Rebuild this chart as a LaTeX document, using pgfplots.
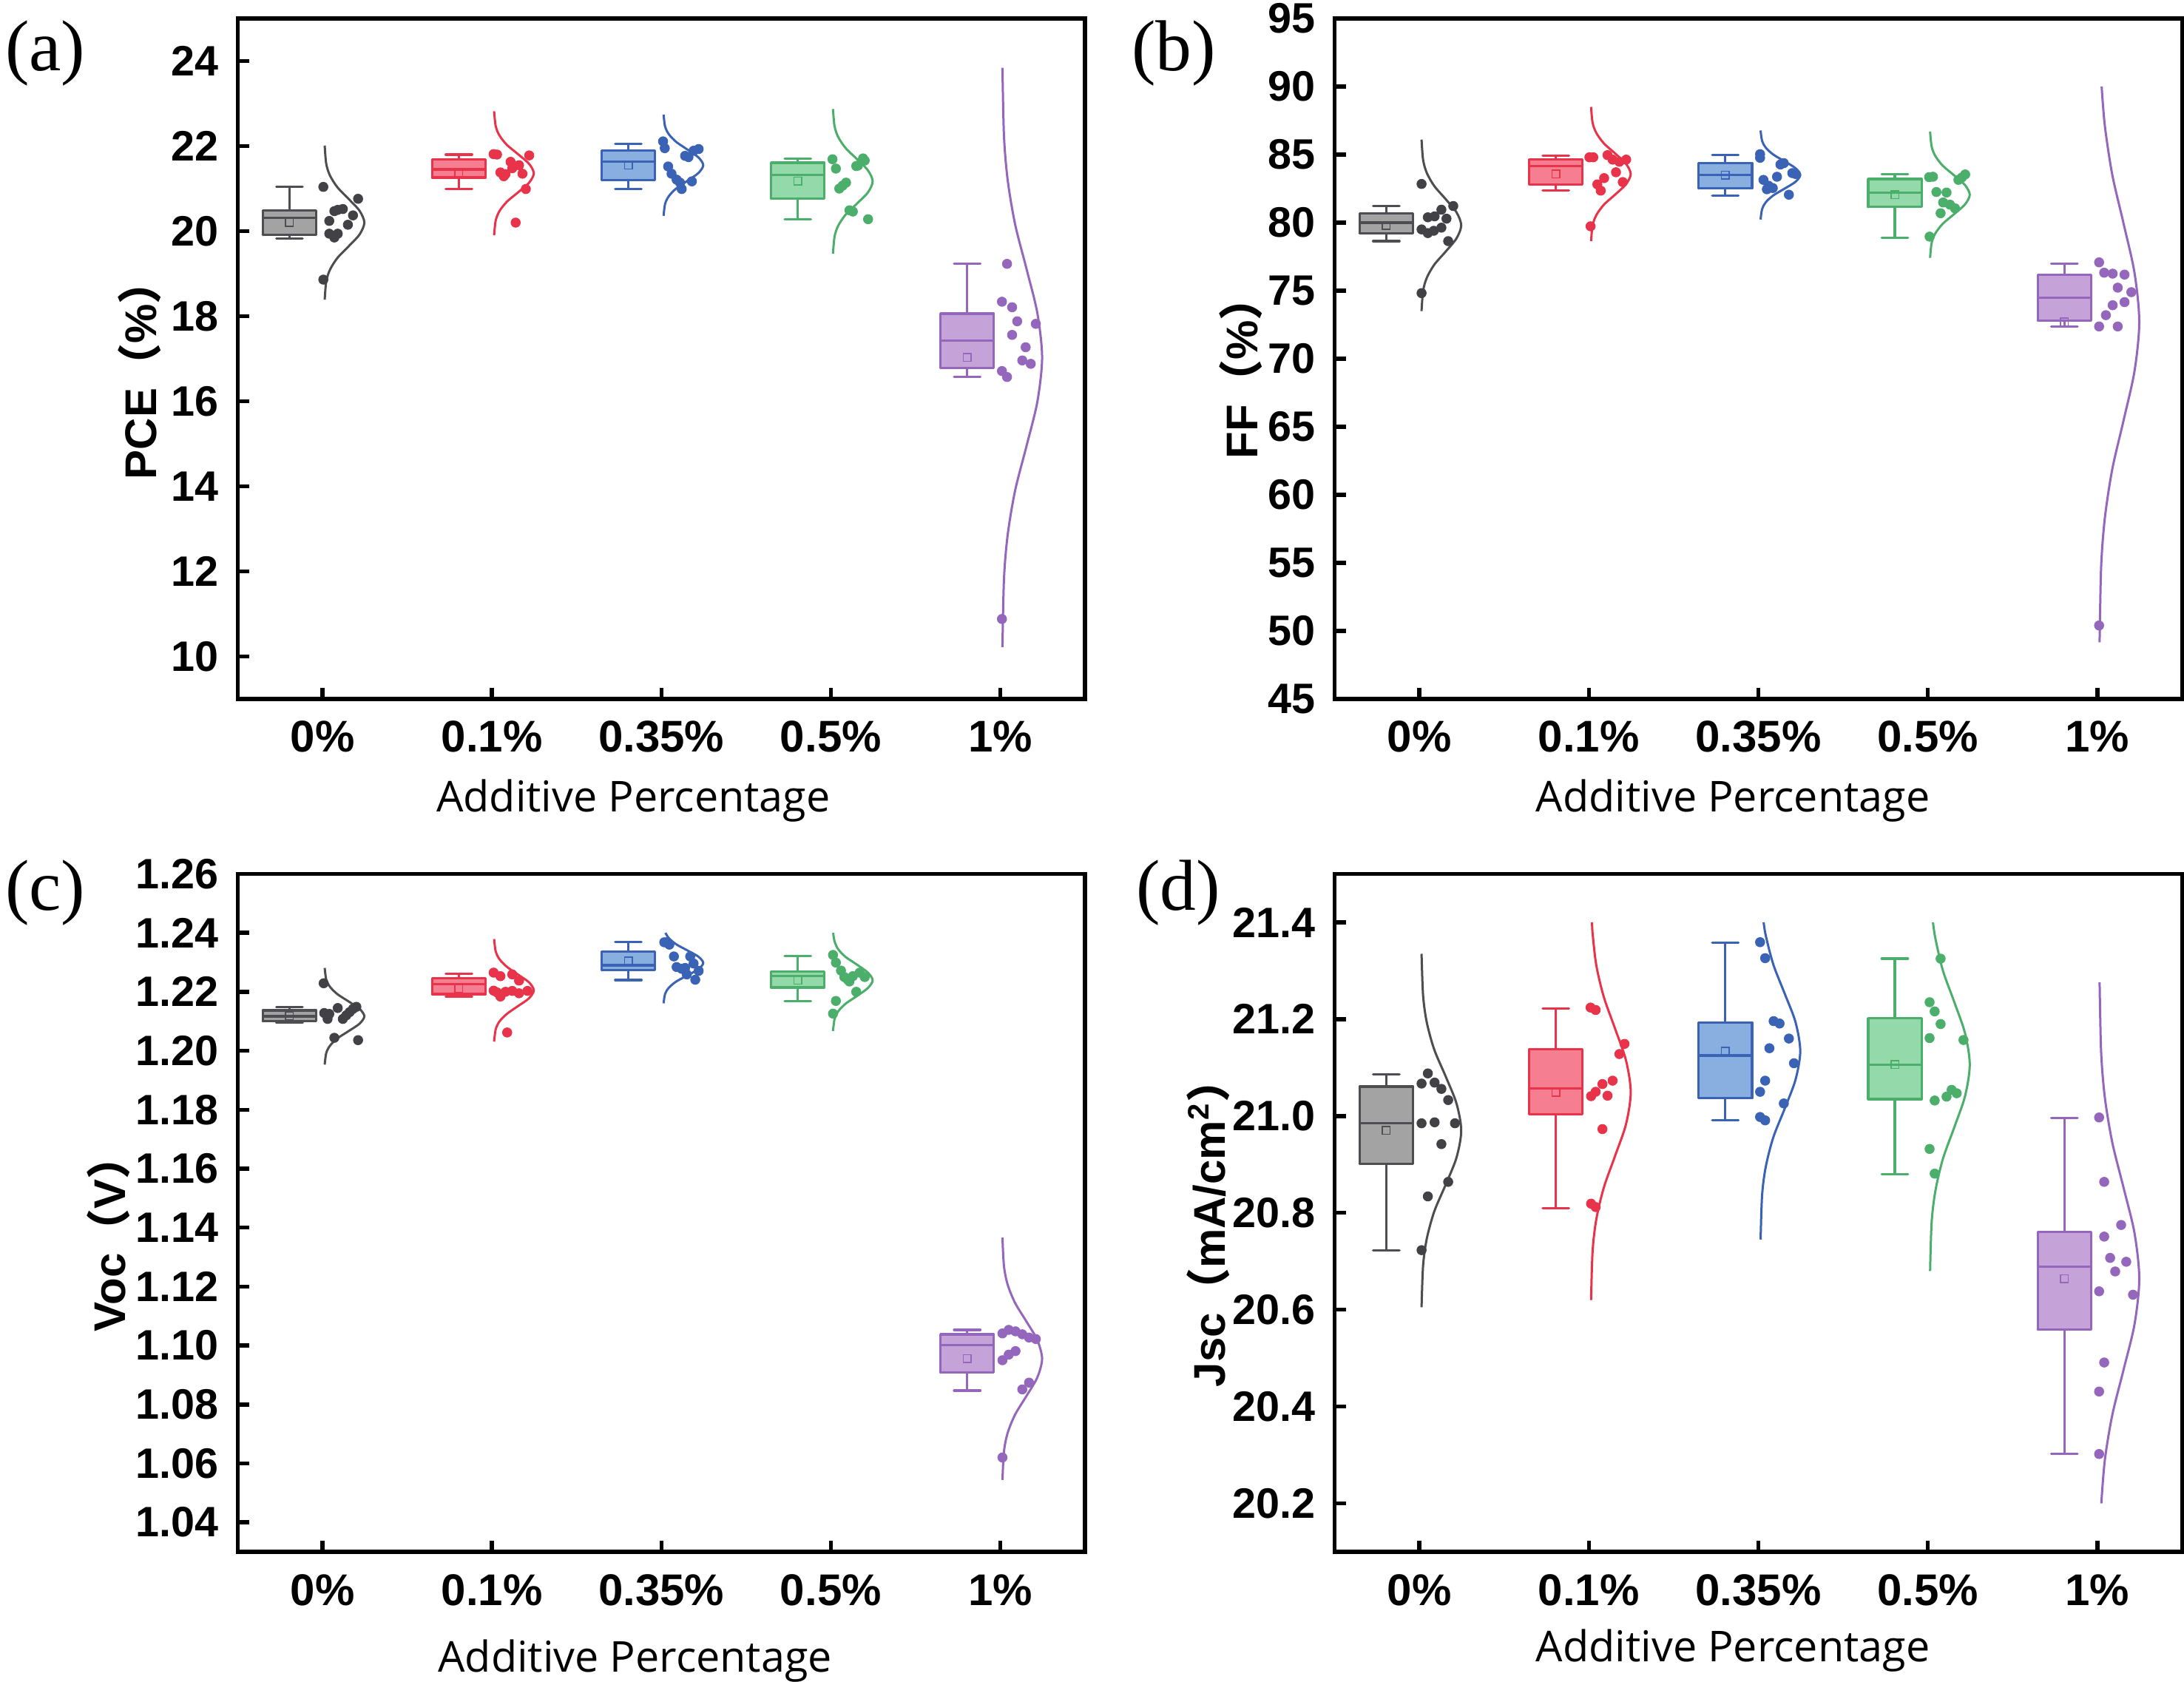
\documentclass[border=0pt]{standalone}
\usepackage{pgfplots}
\pgfplotsset{compat=1.18}
\usepackage{fontspec}
\setmainfont{Liberation Sans}
\newfontfamily\cjk{Noto Sans CJK SC}
\newfontfamily\osans{Open Sans}
\newfontfamily\tnr{Liberation Serif}

\definecolor{gE}{HTML}{4D4D52}\definecolor{gF}{HTML}{A3A3A3}\definecolor{gP}{HTML}{424246}
\definecolor{rE}{HTML}{E8334A}\definecolor{rF}{HTML}{F57F90}
\definecolor{bE}{HTML}{3A62B5}\definecolor{bF}{HTML}{89AFE0}
\definecolor{nE}{HTML}{4BAE6A}\definecolor{nF}{HTML}{93D9A9}
\definecolor{pE}{HTML}{9467BD}\definecolor{pF}{HTML}{C5A3D8}

% box: pos, lower whisker, lower quartile, median, upper quartile, upper whisker, edge, fill, mean
\newcommand{\bx}[9]{%
\pgfmathsetmacro\bxl{#1-0.1575}\pgfmathsetmacro\bxr{#1+0.1575}%
\pgfmathsetmacro\bcl{#1-0.0775}\pgfmathsetmacro\bcr{#1+0.0775}%
\addplot[draw=#7, fill=#8, line width=0.65pt, line join=round, line cap=round] coordinates {(\bxl,#3)(\bxr,#3)(\bxr,#5)(\bxl,#5)(\bxl,#3)};
\addplot[draw=#7, line width=0.65pt] coordinates {(\bxl,#4)(\bxr,#4)};
\addplot[draw=#7, line width=0.65pt] coordinates {(#1,#5)(#1,#6)};
\addplot[draw=#7, line width=0.65pt, line cap=round] coordinates {(\bcl,#6)(\bcr,#6)};
\addplot[draw=#7, line width=0.65pt] coordinates {(#1,#3)(#1,#2)};
\addplot[draw=#7, line width=0.65pt, line cap=round] coordinates {(\bcl,#2)(\bcr,#2)};
\addplot[only marks, mark=square, mark size=1.05pt, mark options={draw=#7, line width=0.3pt, fill=none}] coordinates {(#1,#9)};
}
\newcommand{\crv}[2]{\addplot[draw=#1, line width=0.6pt, smooth, mark=none] coordinates {#2};}
\newcommand{\pts}[2]{\addplot[only marks, mark=*, mark size=1.25pt, color=#1, mark options={draw=#1, fill=#1, line width=0.2pt}] coordinates {#2};}

\pgfplotsset{panel/.style={
  scale only axis, width=229.1pt,
  xmin=-0.5, xmax=4.5, xtick={0,1,2,3,4},
  xticklabels={0\%,0.1\%,0.35\%,0.5\%,1\%},
  tick align=inside, xtick pos=bottom, ytick pos=left,
  major tick length=3pt, minor tick num=0,
  axis line style={line width=1.1pt, black},
  major tick style={black, line width=1.1pt},
  /pgf/number format/assume math mode=true,
  xticklabel style={font=\bfseries\fontsize{12}{12}\selectfont, anchor=base, yshift=-14.4pt},
  yticklabel style={font=\bfseries\fontsize{11.5}{12}\selectfont, xshift=-1.6pt},
  xlabel={Additive Percentage},
  xlabel style={font=\osans\fontsize{11.5}{12}\selectfont, anchor=base},
  ylabel style={font=\bfseries\fontsize{12}{12}\selectfont, anchor=base},
}}

\begin{document}
\begin{tikzpicture}
\path[use as bounding box] (0,0) rectangle (590.6pt,454.6pt);
\fill[white] (0,0) rectangle (590.6pt,454.6pt);

% ---------------- (a) PCE
\begin{axis}[panel, at={(64.3pt,265.6pt)}, anchor=south west, height=184pt,
  ymin=9, ymax=25, ytick={10,12,14,16,18,20,22,24},
  xlabel style={at={(axis description cs:0.467,-0.1658)}},
  ylabel={PCE{\cjk （}\%{\cjk ）}},
  ylabel style={at={(axis description cs:-0.096,0.484)}}]
\bx{-0.195}{19.83}{19.91}{20.31}{20.49}{21.04}{gE}{gF}{20.2}
\bx{0.805}{20.99}{21.26}{21.45}{21.69}{21.80}{rE}{rF}{21.36}
\bx{1.805}{20.99}{21.20}{21.64}{21.89}{22.05}{bE}{bF}{21.55}
\bx{2.805}{20.28}{20.76}{21.32}{21.61}{21.71}{nE}{nF}{21.18}
\bx{3.805}{16.57}{16.78}{17.43}{18.06}{19.23}{pE}{pF}{17.03}
\crv{gE}{(0.013,18.388)(0.022,18.815)(0.044,19.092)(0.088,19.369)(0.155,19.646)(0.219,19.923)(0.247,20.2)(0.219,20.477)(0.155,20.754)(0.088,21.031)(0.044,21.308)(0.022,21.585)(0.013,22.012)}
\crv{rE}{(1.013,19.902)(1.022,20.245)(1.044,20.468)(1.088,20.691)(1.155,20.914)(1.219,21.137)(1.247,21.36)(1.219,21.583)(1.155,21.806)(1.088,22.029)(1.044,22.252)(1.022,22.475)(1.013,22.818)}
\crv{bE}{(2.013,20.36)(2.022,20.64)(2.044,20.822)(2.088,21.004)(2.155,21.186)(2.219,21.368)(2.247,21.55)(2.219,21.732)(2.155,21.914)(2.088,22.096)(2.044,22.278)(2.022,22.46)(2.013,22.74)}
\crv{nE}{(3.013,19.47)(3.022,19.87)(3.044,20.13)(3.088,20.39)(3.155,20.65)(3.219,20.91)(3.247,21.17)(3.219,21.43)(3.155,21.69)(3.088,21.95)(3.044,22.21)(3.022,22.47)(3.013,22.87)}
\crv{pE}{(4.013,10.219)(4.022,11.823)(4.044,12.864)(4.088,13.906)(4.155,14.947)(4.219,15.989)(4.247,17.03)(4.219,18.072)(4.155,19.113)(4.088,20.155)(4.044,21.196)(4.022,22.238)(4.013,23.841)}
\pts{gP}{(0.005,21.04)(0.21,20.76)(0.12,20.52)(0.09,20.50)(0.07,20.47)(0.18,20.37)(0.04,20.24)(0.15,20.15)(0.04,19.94)(0.09,19.94)(0.07,19.85)(0.005,18.86)}
\pts{rE}{(1.01,21.81)(1.03,21.80)(1.22,21.78)(1.11,21.63)(1.16,21.55)(1.12,21.48)(1.05,21.38)(1.18,21.35)(1.07,21.29)(1.08,21.34)(1.20,20.99)(1.14,20.20)}
\pts{bE}{(2.01,22.11)(2.02,21.95)(2.22,21.93)(2.19,21.89)(2.14,21.77)(2.16,21.74)(2.04,21.52)(2.06,21.35)(2.09,21.21)(2.18,21.17)(2.11,21.14)(2.12,20.99)}
\pts{nE}{(3.01,21.69)(3.19,21.71)(3.20,21.66)(3.16,21.54)(3.15,21.53)(3.03,21.47)(3.09,21.14)(3.07,21.07)(3.05,21.00)(3.11,20.49)(3.13,20.46)(3.22,20.28)}
\pts{pE}{(4.04,19.23)(4.01,18.34)(4.07,18.21)(4.10,17.88)(4.21,17.82)(4.07,17.56)(4.15,17.27)(4.13,16.96)(4.18,16.88)(4.01,16.71)(4.04,16.57)(4.01,10.88)}
\end{axis}

% ---------------- (b) FF
\begin{axis}[panel, at={(360.9pt,265.6pt)}, anchor=south west, height=184pt, width=229.2pt,
  ymin=45, ymax=95, ytick={45,50,55,60,65,70,75,80,85,90,95},
  xlabel style={at={(axis description cs:0.47,-0.1658)}},
  ylabel={FF{\cjk （}\%{\cjk ）}},
  ylabel style={at={(axis description cs:-0.091,0.487)}}]
\bx{-0.195}{78.64}{79.23}{80.0}{80.66}{81.22}{gE}{gF}{79.8}
\bx{0.805}{82.35}{82.81}{84.14}{84.63}{84.93}{rE}{rF}{83.57}
\bx{1.805}{81.98}{82.51}{83.51}{84.37}{84.96}{bE}{bF}{83.5}
\bx{2.805}{78.9}{81.15}{82.18}{83.21}{83.54}{nE}{nF}{82.05}
\bx{3.805}{72.37}{72.8}{74.49}{76.15}{76.98}{pE}{pF}{72.7}
\crv{gE}{(0.013,73.50)(0.022,74.98)(0.044,75.95)(0.088,76.91)(0.155,77.87)(0.219,78.84)(0.247,79.8)(0.219,80.76)(0.155,81.73)(0.088,82.69)(0.044,83.65)(0.022,84.62)(0.013,86.10)}
\crv{rE}{(1.013,78.64)(1.022,79.80)(1.044,80.55)(1.088,81.31)(1.155,82.06)(1.219,82.82)(1.247,83.57)(1.219,84.32)(1.155,85.08)(1.088,85.83)(1.044,86.59)(1.022,87.34)(1.013,88.50)}
\crv{bE}{(2.013,80.23)(2.022,81.0)(2.044,81.5)(2.088,82.0)(2.155,82.5)(2.219,83.0)(2.247,83.5)(2.219,84.0)(2.155,84.5)(2.088,85.0)(2.044,85.5)(2.022,86.0)(2.013,86.77)}
\crv{nE}{(3.013,77.41)(3.022,78.50)(3.044,79.21)(3.088,79.92)(3.155,80.63)(3.219,81.34)(3.247,82.05)(3.219,82.76)(3.155,83.47)(3.088,84.18)(3.044,84.89)(3.022,85.60)(3.013,86.69)}
\crv{pE}{(4.013,49.16)(4.022,54.70)(4.044,58.30)(4.088,61.90)(4.155,65.50)(4.219,69.10)(4.247,72.70)(4.219,76.30)(4.155,79.90)(4.088,83.50)(4.044,87.10)(4.025,90.0)}
\pts{gP}{(0.013,82.84)(0.20,81.22)(0.13,80.95)(0.09,80.46)(0.05,80.39)(0.16,80.29)(0.013,79.50)(0.05,79.23)(0.085,79.40)(0.13,79.63)(0.17,78.64)(0.013,74.82)}
\pts{rE}{(1.003,84.80)(1.026,84.80)(1.11,84.96)(1.14,84.63)(1.22,84.63)(1.18,84.47)(1.16,83.70)(1.09,83.27)(1.20,82.98)(1.05,82.81)(1.07,82.35)(1.01,79.73)}
\pts{bE}{(2.01,85.03)(2.01,84.76)(2.15,84.37)(2.13,84.27)(2.22,83.57)(2.20,83.64)(2.11,83.37)(2.03,83.14)(2.06,82.71)(2.085,82.54)(2.05,82.45)(2.18,82.05)}
\pts{nE}{(3.007,83.34)(3.03,83.37)(3.22,83.54)(3.18,83.14)(3.20,83.31)(3.05,82.25)(3.11,82.21)(3.09,81.48)(3.13,81.32)(3.16,81.05)(3.075,80.69)(3.01,78.97)}
\pts{pE}{(4.01,77.08)(4.04,76.32)(4.09,76.25)(4.16,76.18)(4.12,75.22)(4.20,74.89)(4.16,74.16)(4.09,73.93)(4.05,73.20)(4.01,72.37)(4.12,72.37)(4.01,50.40)}
\end{axis}

% ---------------- (c) Voc
\begin{axis}[panel, at={(64.3pt,35pt)}, anchor=south west, height=183.3pt,
  ymin=1.03, ymax=1.26, ytick={1.04,1.06,1.08,1.10,1.12,1.14,1.16,1.18,1.20,1.22,1.24,1.26},
  yticklabel style={/pgf/number format/.cd, fixed, fixed zerofill, precision=2},
  xlabel style={at={(axis description cs:0.469,-0.1768)}},
  ylabel={Voc{\cjk （}V{\cjk ）}},
  ylabel style={at={(axis description cs:-0.133,0.47)}}]
\bx{-0.195}{1.2097}{1.2100}{1.2117}{1.2137}{1.2148}{gE}{gF}{1.2117}
\bx{0.805}{1.2183}{1.2192}{1.2226}{1.2246}{1.2261}{rE}{rF}{1.2210}
\bx{1.805}{1.2240}{1.2273}{1.2290}{1.2336}{1.2369}{bE}{bF}{1.2305}
\bx{2.805}{1.2169}{1.2215}{1.2253}{1.2269}{1.2322}{nE}{nF}{1.2239}
\bx{3.805}{1.0847}{1.0908}{1.1002}{1.1038}{1.1053}{pE}{pF}{1.0955}
\crv{gE}{(0.013,1.1953)(0.022,1.1992)(0.044,1.2017)(0.088,1.2042)(0.155,1.2067)(0.219,1.2092)(0.247,1.2117)(0.219,1.2142)(0.155,1.2167)(0.088,1.2192)(0.044,1.2217)(0.022,1.2242)(0.013,1.2281)}
\crv{rE}{(1.013,1.2031)(1.022,1.2072)(1.044,1.2099)(1.088,1.2125)(1.155,1.2152)(1.219,1.2178)(1.247,1.2205)(1.219,1.2232)(1.155,1.2258)(1.088,1.2285)(1.044,1.2311)(1.022,1.2338)(1.013,1.2379)}
\crv{bE}{(2.013,1.2161)(2.022,1.2193)(2.044,1.2214)(2.088,1.2235)(2.155,1.2256)(2.219,1.2277)(2.247,1.2298)(2.219,1.2319)(2.155,1.2340)(2.088,1.2361)(2.044,1.2382)(2.024,1.2400)}
\crv{nE}{(3.013,1.2067)(3.022,1.2107)(3.044,1.2134)(3.088,1.2160)(3.155,1.2186)(3.219,1.2213)(3.247,1.2239)(3.219,1.2265)(3.155,1.2292)(3.088,1.2318)(3.044,1.2344)(3.022,1.2371)(3.014,1.2400)}
\crv{pE}{(4.013,1.0544)(4.022,1.0641)(4.044,1.0704)(4.088,1.0766)(4.155,1.0829)(4.219,1.0892)(4.247,1.0955)(4.219,1.1018)(4.155,1.1081)(4.088,1.1144)(4.044,1.1206)(4.022,1.1269)(4.013,1.1366)}
\pts{gP}{(0.007,1.2229)(0.20,1.2149)(0.18,1.2142)(0.09,1.2145)(0.16,1.2131)(0.01,1.2128)(0.14,1.2120)(0.03,1.2108)(0.12,1.2108)(0.07,1.2044)(0.21,1.2036)(0.04,1.2125)}
\pts{rE}{(1.01,1.2265)(1.05,1.2253)(1.12,1.2259)(1.16,1.2238)(1.01,1.2204)(1.03,1.2198)(1.05,1.2184)(1.08,1.2200)(1.12,1.2203)(1.16,1.2195)(1.21,1.2203)(1.09,1.2062)}
\pts{bE}{(2.017,1.2368)(2.047,1.2360)(2.074,1.2320)(2.17,1.2320)(2.19,1.2296)(2.09,1.2284)(2.14,1.2281)(2.12,1.2278)(2.22,1.2271)(2.15,1.2259)(2.20,1.2241)(2.03,1.2368)}
\pts{nE}{(3.013,1.2325)(3.03,1.2299)(3.06,1.2272)(3.08,1.2250)(3.11,1.2235)(3.13,1.2253)(3.17,1.2265)(3.20,1.2250)(3.15,1.2200)(3.03,1.2169)(3.013,1.2126)(3.10,1.2241)}
\pts{pE}{(4.013,1.1041)(4.05,1.1053)(4.09,1.1048)(4.13,1.1038)(4.17,1.1027)(4.21,1.1022)(4.09,1.0981)(4.05,1.0969)(4.013,1.0950)(4.17,1.0874)(4.13,1.0851)(4.013,1.0620)}
\end{axis}

% ---------------- (d) Jsc
\begin{axis}[panel, at={(360.9pt,35pt)}, anchor=south west, height=183.3pt, width=229.2pt,
  ymin=20.1, ymax=21.5, ytick={20.2,20.4,20.6,20.8,21.0,21.2,21.4},
  yticklabel style={/pgf/number format/.cd, fixed, fixed zerofill, precision=1},
  xlabel style={at={(axis description cs:0.47,-0.162)}},
  ylabel={Jsc{\cjk （}mA/cm\textsuperscript{2}{\cjk ）}},
  ylabel style={at={(axis description cs:-0.129,0.486)}}]
\bx{-0.195}{20.723}{20.901}{20.985}{21.061}{21.086}{gE}{gF}{20.970}
\bx{0.805}{20.810}{21.004}{21.057}{21.138}{21.222}{rE}{rF}{21.049}
\bx{1.805}{20.991}{21.037}{21.125}{21.193}{21.358}{bE}{bF}{21.134}
\bx{2.805}{20.880}{21.035}{21.106}{21.202}{21.325}{nE}{nF}{21.106}
\bx{3.805}{20.302}{20.559}{20.689}{20.761}{20.996}{pE}{pF}{20.664}
\crv{gE}{(0.013,20.605)(0.022,20.691)(0.044,20.747)(0.088,20.803)(0.155,20.858)(0.219,20.914)(0.247,20.970)(0.219,21.026)(0.155,21.082)(0.088,21.137)(0.044,21.193)(0.022,21.249)(0.013,21.335)}
\crv{rE}{(1.013,20.620)(1.022,20.721)(1.044,20.787)(1.088,20.852)(1.155,20.918)(1.219,20.983)(1.247,21.049)(1.219,21.115)(1.155,21.180)(1.088,21.246)(1.044,21.311)(1.022,21.377)(1.019,21.40)}
\crv{bE}{(2.013,20.745)(2.022,20.837)(2.044,20.896)(2.088,20.956)(2.155,21.015)(2.219,21.075)(2.247,21.134)(2.219,21.194)(2.155,21.253)(2.088,21.313)(2.044,21.372)(2.031,21.40)}
\crv{nE}{(3.013,20.680)(3.022,20.780)(3.044,20.845)(3.088,20.911)(3.155,20.976)(3.219,21.041)(3.247,21.106)(3.219,21.171)(3.155,21.236)(3.088,21.301)(3.044,21.367)(3.030,21.40)}
\crv{pE}{(4.023,20.20)(4.044,20.290)(4.088,20.383)(4.155,20.477)(4.219,20.570)(4.247,20.664)(4.219,20.758)(4.155,20.851)(4.088,20.945)(4.044,21.038)(4.022,21.132)(4.013,21.276)}
\pts{gP}{(0.05,21.088)(0.013,21.067)(0.09,21.069)(0.13,21.056)(0.17,21.033)(0.013,20.985)(0.09,20.987)(0.21,20.985)(0.13,20.942)(0.17,20.864)(0.05,20.834)(0.013,20.723)}
\pts{rE}{(1.01,21.224)(1.04,21.219)(1.21,21.149)(1.18,21.128)(1.14,21.073)(1.08,21.066)(1.04,21.050)(1.013,21.041)(1.11,21.042)(1.08,20.973)(1.013,20.819)(1.04,20.812)}
\pts{bE}{(2.01,21.359)(2.04,21.326)(2.09,21.196)(2.125,21.191)(2.18,21.160)(2.065,21.140)(2.21,21.109)(2.04,21.073)(2.01,21.050)(2.15,21.026)(2.01,20.998)(2.04,20.991)}
\pts{nE}{(3.075,21.325)(3.01,21.235)(3.04,21.216)(3.075,21.190)(3.01,21.161)(3.21,21.157)(3.14,21.054)(3.17,21.047)(3.11,21.040)(3.04,21.032)(3.01,20.932)(3.04,20.881)}
\pts{pE}{(4.01,20.997)(4.04,20.864)(4.14,20.775)(4.04,20.751)(4.075,20.707)(4.17,20.699)(4.105,20.679)(4.01,20.638)(4.21,20.631)(4.04,20.491)(4.01,20.431)(4.01,20.302)}
\end{axis}

\node[anchor=base west, font=\tnr\fontsize{19.5}{20}\selectfont, inner sep=0pt] at (1.2pt,435.4pt) {(a)};
\node[anchor=base west, font=\tnr\fontsize{19.5}{20}\selectfont, inner sep=0pt] at (305.8pt,435.4pt) {(b)};
\node[anchor=base west, font=\tnr\fontsize{19.5}{20}\selectfont, inner sep=0pt] at (1.2pt,208.4pt) {(c)};
\node[anchor=base west, font=\tnr\fontsize{19.5}{20}\selectfont, inner sep=0pt] at (307pt,208.4pt) {(d)};
\end{tikzpicture}
\end{document}
